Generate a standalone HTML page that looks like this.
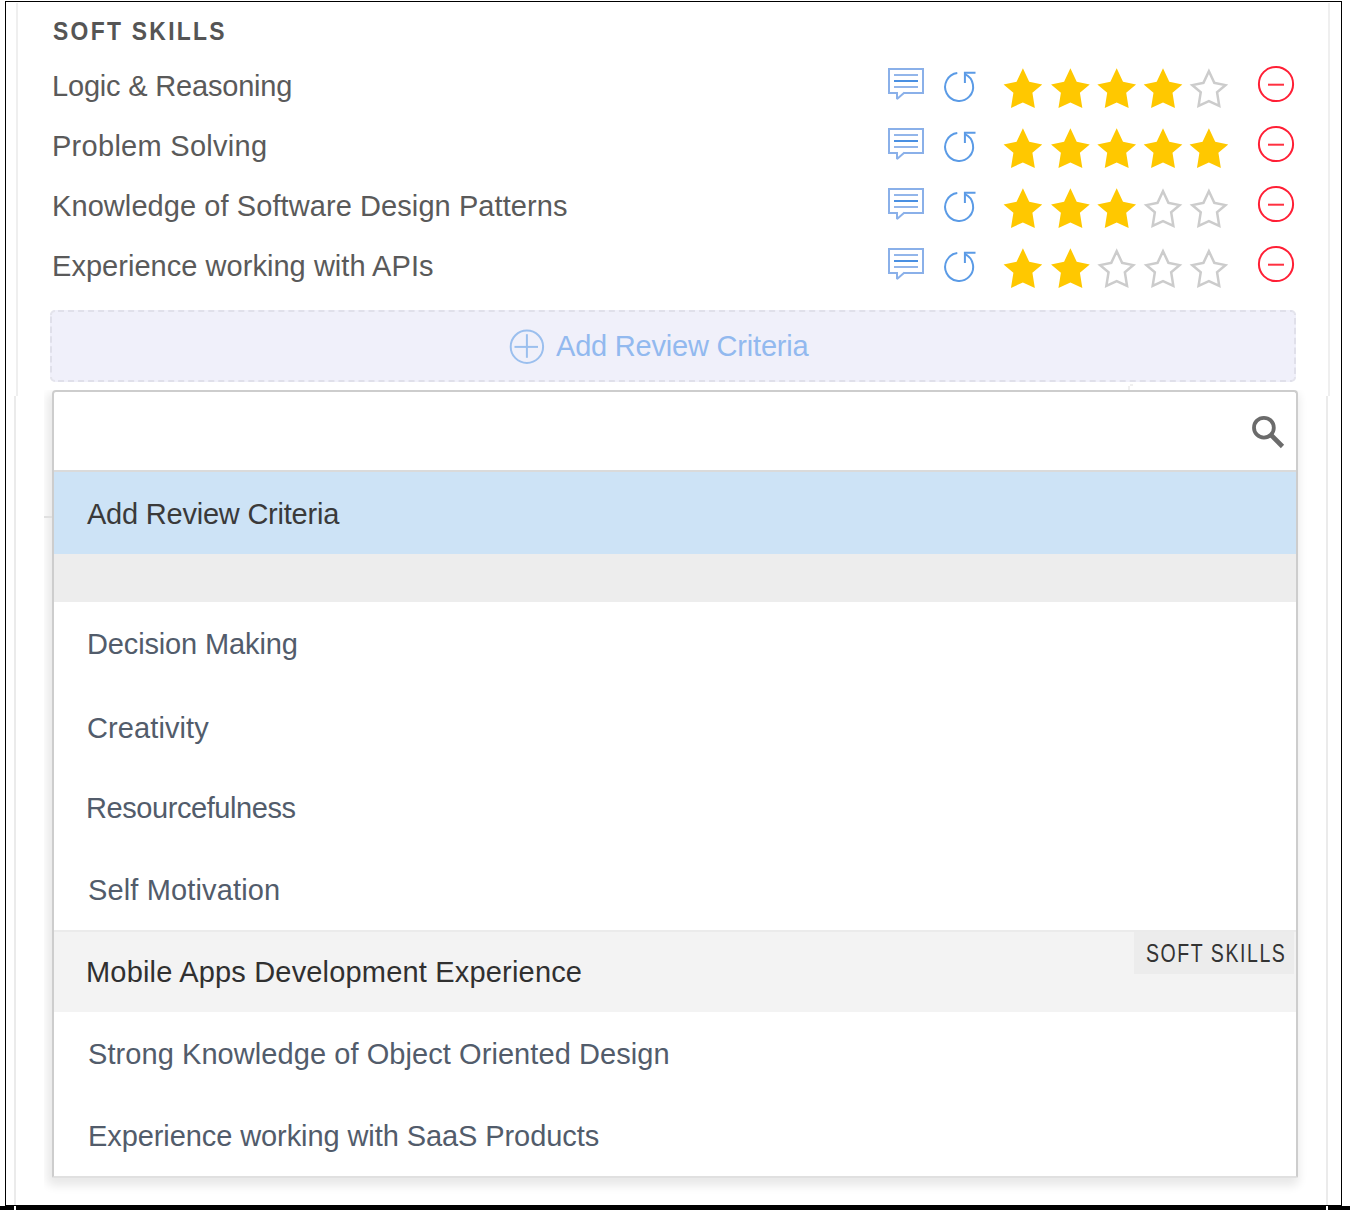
<!DOCTYPE html>
<html>
<head>
<meta charset="utf-8">
<style>
html,body{margin:0;padding:0;}
body{width:1350px;height:1210px;position:relative;overflow:hidden;background:#fff;font-family:"Liberation Sans",sans-serif;}
.a{position:absolute;}
.t{position:absolute;white-space:nowrap;line-height:normal;font-family:"Liberation Sans",sans-serif;}
.row{font-size:29px;color:#5a5a5a;}
.itm{font-size:29px;color:#525c6b;}
svg{position:absolute;overflow:visible;}
</style>
</head>
<body>
<!-- frame -->
<div class="a" style="left:5px;top:1px;width:1337px;height:1px;background:#000"></div>
<div class="a" style="left:5px;top:1px;width:1px;height:1205px;background:#000"></div>
<div class="a" style="left:1341px;top:1px;width:1px;height:1205px;background:#000"></div>
<div class="a" style="left:0;top:1206px;width:1350px;height:4px;background:#000"></div>
<div class="a" style="left:5px;top:1205px;width:1337px;height:1px;background:#000"></div>
<div class="a" style="left:14px;top:1206px;width:2px;height:4px;background:#fff"></div>
<div class="a" style="left:1326px;top:1206px;width:2px;height:4px;background:#fff"></div>
<!-- grey vertical lines -->
<div class="a" style="left:16px;top:3px;width:2px;height:393px;background:#efefef"></div>
<div class="a" style="left:14px;top:396px;width:2px;height:809px;background:#ebebeb"></div>
<div class="a" style="left:1328px;top:3px;width:2px;height:393px;background:#efefef"></div>
<div class="a" style="left:1326px;top:396px;width:2px;height:809px;background:#ebebeb"></div>

<!-- header -->
<div class="t" style="left:53px;top:16px;font-size:26px;font-weight:bold;color:#555;letter-spacing:2.6px;transform-origin:0 0;transform:scaleX(0.88)">SOFT SKILLS</div>

<!-- rows -->
<div class="t row" style="left:52px;top:70px;letter-spacing:-0.19px">Logic &amp; Reasoning</div>
<div class="t row" style="left:52px;top:130px;letter-spacing:0.28px">Problem Solving</div>
<div class="t row" style="left:52px;top:190px;letter-spacing:0.08px">Knowledge of Software Design Patterns</div>
<div class="t row" style="left:52px;top:250px;letter-spacing:0.04px">Experience working with APIs</div>

<!--ICONS-->
<svg style="left:0;top:0" width="1350" height="300" viewBox="0 0 1350 300">
<defs>
<clipPath id="c04"><polygon points="1208.90,68.20 1215.20,81.80 1228.25,84.40 1218.40,92.80 1220.85,107.90 1208.90,102.40 1196.95,107.90 1199.40,92.80 1189.55,84.40 1202.60,81.80"/></clipPath>
<clipPath id="c23"><polygon points="1163.00,188.20 1169.30,201.80 1182.35,204.40 1172.50,212.80 1174.95,227.90 1163.00,222.40 1151.05,227.90 1153.50,212.80 1143.65,204.40 1156.70,201.80"/></clipPath>
<clipPath id="c24"><polygon points="1208.90,188.20 1215.20,201.80 1228.25,204.40 1218.40,212.80 1220.85,227.90 1208.90,222.40 1196.95,227.90 1199.40,212.80 1189.55,204.40 1202.60,201.80"/></clipPath>
<clipPath id="c32"><polygon points="1116.70,248.20 1123.00,261.80 1136.05,264.40 1126.20,272.80 1128.65,287.90 1116.70,282.40 1104.75,287.90 1107.20,272.80 1097.35,264.40 1110.40,261.80"/></clipPath>
<clipPath id="c33"><polygon points="1163.00,248.20 1169.30,261.80 1182.35,264.40 1172.50,272.80 1174.95,287.90 1163.00,282.40 1151.05,287.90 1153.50,272.80 1143.65,264.40 1156.70,261.80"/></clipPath>
<clipPath id="c34"><polygon points="1208.90,248.20 1215.20,261.80 1228.25,264.40 1218.40,272.80 1220.85,287.90 1208.90,282.40 1196.95,287.90 1199.40,272.80 1189.55,264.40 1202.60,261.80"/></clipPath>
</defs>
<path d="M904 93 L923 93 L923 69 L889 69 L889 93 L897 93" fill="none" stroke="#8ab0e9" stroke-width="2" stroke-linejoin="miter"/>
<path d="M897 92 L897 99 L904.5 92.5" fill="none" stroke="#8ab0e9" stroke-width="2" stroke-linejoin="bevel"/>
<line x1="894" y1="75" x2="918" y2="75" stroke="#93b6ea" stroke-width="2"/>
<line x1="894" y1="81" x2="918" y2="81" stroke="#4a90e2" stroke-width="2"/>
<line x1="894" y1="87" x2="918" y2="87" stroke="#93b6ea" stroke-width="2"/>
<path d="M957.3 73.03 A14 14 0 1 0 965 74.2" fill="none" stroke="#5b9be6" stroke-width="2"/>
<path d="M964.9 83 L964.9 72.7 L975.5 72.7" fill="none" stroke="#5b9be6" stroke-width="2"/>
<polygon points="1022.90,68.20 1029.20,81.80 1042.25,84.40 1032.40,92.80 1034.85,107.90 1022.90,102.40 1010.95,107.90 1013.40,92.80 1003.55,84.40 1016.60,81.80" fill="#ffc800"/>
<polygon points="1070.40,68.20 1076.70,81.80 1089.75,84.40 1079.90,92.80 1082.35,107.90 1070.40,102.40 1058.45,107.90 1060.90,92.80 1051.05,84.40 1064.10,81.80" fill="#ffc800"/>
<polygon points="1116.70,68.20 1123.00,81.80 1136.05,84.40 1126.20,92.80 1128.65,107.90 1116.70,102.40 1104.75,107.90 1107.20,92.80 1097.35,84.40 1110.40,81.80" fill="#ffc800"/>
<polygon points="1163.00,68.20 1169.30,81.80 1182.35,84.40 1172.50,92.80 1174.95,107.90 1163.00,102.40 1151.05,107.90 1153.50,92.80 1143.65,84.40 1156.70,81.80" fill="#ffc800"/>
<polygon points="1208.90,68.20 1215.20,81.80 1228.25,84.40 1218.40,92.80 1220.85,107.90 1208.90,102.40 1196.95,107.90 1199.40,92.80 1189.55,84.40 1202.60,81.80" fill="none" stroke="#cccccc" stroke-width="5" clip-path="url(#c04)"/>
<circle cx="1276" cy="84" r="17.1" fill="none" stroke="#ff1f35" stroke-width="2"/>
<line x1="1268" y1="84.7" x2="1284" y2="84.7" stroke="#ff3040" stroke-width="2"/>
<path d="M904 153 L923 153 L923 129 L889 129 L889 153 L897 153" fill="none" stroke="#8ab0e9" stroke-width="2" stroke-linejoin="miter"/>
<path d="M897 152 L897 159 L904.5 152.5" fill="none" stroke="#8ab0e9" stroke-width="2" stroke-linejoin="bevel"/>
<line x1="894" y1="135" x2="918" y2="135" stroke="#93b6ea" stroke-width="2"/>
<line x1="894" y1="141" x2="918" y2="141" stroke="#4a90e2" stroke-width="2"/>
<line x1="894" y1="147" x2="918" y2="147" stroke="#93b6ea" stroke-width="2"/>
<path d="M957.3 133.03 A14 14 0 1 0 965 134.2" fill="none" stroke="#5b9be6" stroke-width="2"/>
<path d="M964.9 143 L964.9 132.7 L975.5 132.7" fill="none" stroke="#5b9be6" stroke-width="2"/>
<polygon points="1022.90,128.20 1029.20,141.80 1042.25,144.40 1032.40,152.80 1034.85,167.90 1022.90,162.40 1010.95,167.90 1013.40,152.80 1003.55,144.40 1016.60,141.80" fill="#ffc800"/>
<polygon points="1070.40,128.20 1076.70,141.80 1089.75,144.40 1079.90,152.80 1082.35,167.90 1070.40,162.40 1058.45,167.90 1060.90,152.80 1051.05,144.40 1064.10,141.80" fill="#ffc800"/>
<polygon points="1116.70,128.20 1123.00,141.80 1136.05,144.40 1126.20,152.80 1128.65,167.90 1116.70,162.40 1104.75,167.90 1107.20,152.80 1097.35,144.40 1110.40,141.80" fill="#ffc800"/>
<polygon points="1163.00,128.20 1169.30,141.80 1182.35,144.40 1172.50,152.80 1174.95,167.90 1163.00,162.40 1151.05,167.90 1153.50,152.80 1143.65,144.40 1156.70,141.80" fill="#ffc800"/>
<polygon points="1208.90,128.20 1215.20,141.80 1228.25,144.40 1218.40,152.80 1220.85,167.90 1208.90,162.40 1196.95,167.90 1199.40,152.80 1189.55,144.40 1202.60,141.80" fill="#ffc800"/>
<circle cx="1276" cy="144" r="17.1" fill="none" stroke="#ff1f35" stroke-width="2"/>
<line x1="1268" y1="144.7" x2="1284" y2="144.7" stroke="#ff3040" stroke-width="2"/>
<path d="M904 213 L923 213 L923 189 L889 189 L889 213 L897 213" fill="none" stroke="#8ab0e9" stroke-width="2" stroke-linejoin="miter"/>
<path d="M897 212 L897 219 L904.5 212.5" fill="none" stroke="#8ab0e9" stroke-width="2" stroke-linejoin="bevel"/>
<line x1="894" y1="195" x2="918" y2="195" stroke="#93b6ea" stroke-width="2"/>
<line x1="894" y1="201" x2="918" y2="201" stroke="#4a90e2" stroke-width="2"/>
<line x1="894" y1="207" x2="918" y2="207" stroke="#93b6ea" stroke-width="2"/>
<path d="M957.3 193.03 A14 14 0 1 0 965 194.2" fill="none" stroke="#5b9be6" stroke-width="2"/>
<path d="M964.9 203 L964.9 192.7 L975.5 192.7" fill="none" stroke="#5b9be6" stroke-width="2"/>
<polygon points="1022.90,188.20 1029.20,201.80 1042.25,204.40 1032.40,212.80 1034.85,227.90 1022.90,222.40 1010.95,227.90 1013.40,212.80 1003.55,204.40 1016.60,201.80" fill="#ffc800"/>
<polygon points="1070.40,188.20 1076.70,201.80 1089.75,204.40 1079.90,212.80 1082.35,227.90 1070.40,222.40 1058.45,227.90 1060.90,212.80 1051.05,204.40 1064.10,201.80" fill="#ffc800"/>
<polygon points="1116.70,188.20 1123.00,201.80 1136.05,204.40 1126.20,212.80 1128.65,227.90 1116.70,222.40 1104.75,227.90 1107.20,212.80 1097.35,204.40 1110.40,201.80" fill="#ffc800"/>
<polygon points="1163.00,188.20 1169.30,201.80 1182.35,204.40 1172.50,212.80 1174.95,227.90 1163.00,222.40 1151.05,227.90 1153.50,212.80 1143.65,204.40 1156.70,201.80" fill="none" stroke="#cccccc" stroke-width="5" clip-path="url(#c23)"/>
<polygon points="1208.90,188.20 1215.20,201.80 1228.25,204.40 1218.40,212.80 1220.85,227.90 1208.90,222.40 1196.95,227.90 1199.40,212.80 1189.55,204.40 1202.60,201.80" fill="none" stroke="#cccccc" stroke-width="5" clip-path="url(#c24)"/>
<circle cx="1276" cy="204" r="17.1" fill="none" stroke="#ff1f35" stroke-width="2"/>
<line x1="1268" y1="204.7" x2="1284" y2="204.7" stroke="#ff3040" stroke-width="2"/>
<path d="M904 273 L923 273 L923 249 L889 249 L889 273 L897 273" fill="none" stroke="#8ab0e9" stroke-width="2" stroke-linejoin="miter"/>
<path d="M897 272 L897 279 L904.5 272.5" fill="none" stroke="#8ab0e9" stroke-width="2" stroke-linejoin="bevel"/>
<line x1="894" y1="255" x2="918" y2="255" stroke="#93b6ea" stroke-width="2"/>
<line x1="894" y1="261" x2="918" y2="261" stroke="#4a90e2" stroke-width="2"/>
<line x1="894" y1="267" x2="918" y2="267" stroke="#93b6ea" stroke-width="2"/>
<path d="M957.3 253.03 A14 14 0 1 0 965 254.2" fill="none" stroke="#5b9be6" stroke-width="2"/>
<path d="M964.9 263 L964.9 252.7 L975.5 252.7" fill="none" stroke="#5b9be6" stroke-width="2"/>
<polygon points="1022.90,248.20 1029.20,261.80 1042.25,264.40 1032.40,272.80 1034.85,287.90 1022.90,282.40 1010.95,287.90 1013.40,272.80 1003.55,264.40 1016.60,261.80" fill="#ffc800"/>
<polygon points="1070.40,248.20 1076.70,261.80 1089.75,264.40 1079.90,272.80 1082.35,287.90 1070.40,282.40 1058.45,287.90 1060.90,272.80 1051.05,264.40 1064.10,261.80" fill="#ffc800"/>
<polygon points="1116.70,248.20 1123.00,261.80 1136.05,264.40 1126.20,272.80 1128.65,287.90 1116.70,282.40 1104.75,287.90 1107.20,272.80 1097.35,264.40 1110.40,261.80" fill="none" stroke="#cccccc" stroke-width="5" clip-path="url(#c32)"/>
<polygon points="1163.00,248.20 1169.30,261.80 1182.35,264.40 1172.50,272.80 1174.95,287.90 1163.00,282.40 1151.05,287.90 1153.50,272.80 1143.65,264.40 1156.70,261.80" fill="none" stroke="#cccccc" stroke-width="5" clip-path="url(#c33)"/>
<polygon points="1208.90,248.20 1215.20,261.80 1228.25,264.40 1218.40,272.80 1220.85,287.90 1208.90,282.40 1196.95,287.90 1199.40,272.80 1189.55,264.40 1202.60,261.80" fill="none" stroke="#cccccc" stroke-width="5" clip-path="url(#c34)"/>
<circle cx="1276" cy="264" r="17.1" fill="none" stroke="#ff1f35" stroke-width="2"/>
<line x1="1268" y1="264.7" x2="1284" y2="264.7" stroke="#ff3040" stroke-width="2"/>
</svg>
<!--/ICONS-->

<!-- add review criteria box -->
<svg style="left:0;top:0" width="1350" height="400" viewBox="0 0 1350 400">
  <rect x="50" y="310" width="1246" height="72" rx="5" ry="5" fill="#f0f0fa"/>
  <path d="M51 315 A4 4 0 0 1 55 311 M1291 311 A4 4 0 0 1 1295 315 M1295 377 A4 4 0 0 1 1291 381 M55 381 A4 4 0 0 1 51 377" fill="none" stroke="#e4e4ec" stroke-width="2"/>
  <line x1="54" y1="311" x2="1292" y2="311" stroke="#e0e0ea" stroke-width="2" stroke-dasharray="6 4.016" stroke-dashoffset="6"/>
  <line x1="54" y1="381" x2="1292" y2="381" stroke="#e0e0ea" stroke-width="2" stroke-dasharray="6 4.016" stroke-dashoffset="6"/>
  <line x1="51" y1="314" x2="51" y2="376" stroke="#e0e0ea" stroke-width="2" stroke-dasharray="6.5 3.4" stroke-dashoffset="7.4"/>
  <line x1="1295" y1="314" x2="1295" y2="376" stroke="#e0e0ea" stroke-width="2" stroke-dasharray="6.5 3.4" stroke-dashoffset="6"/>
</svg>
<svg style="left:0;top:0" width="1" height="1">
  <circle cx="526.9" cy="346.7" r="16.2" fill="none" stroke="#9bbfee" stroke-width="2"/>
  <line x1="514.5" y1="346.9" x2="538" y2="346.9" stroke="#9bbfee" stroke-width="2"/>
  <line x1="526.9" y1="334.2" x2="526.9" y2="357.8" stroke="#9bbfee" stroke-width="2"/>
</svg>
<div class="t" style="left:556px;top:330px;font-size:29px;color:#92b9ef;letter-spacing:-0.2px">Add Review Criteria</div>

<!-- dropdown -->
<div class="a" style="left:1128px;top:386px;width:2px;height:4px;background:#efefef"></div>
<div class="a" style="left:1130px;top:384px;width:3px;height:2px;background:#f0f0f0"></div>

<div class="a" style="left:44px;top:390px;width:1306px;height:820px;overflow:hidden"><div id="shd" class="a" style="left:8px;top:0px;width:1246px;height:788px;border-radius:4px;background:#fff;box-shadow:-2px 5px 10px 3px rgba(0,0,0,0.09)"></div></div>
<div class="a" style="left:52px;top:390px;width:1242px;height:784px;border:2px solid #cdcdcd;border-bottom-color:#e0e0e0;border-radius:4px 4px 2px 2px;background:#fff;"></div>
<div class="a" style="left:44px;top:516px;width:8px;height:2px;background:#e0e0e0"></div>
<div class="a" style="left:54px;top:470px;width:1242px;height:2px;background:#dadada"></div>
<div class="a" style="left:54px;top:472px;width:1242px;height:82px;background:#cde3f6"></div>
<div class="a" style="left:54px;top:554px;width:1242px;height:48px;background:#ededed"></div>
<div class="a" style="left:54px;top:930px;width:1242px;height:82px;background:#f3f3f3"></div>
<div class="a" style="left:54px;top:930px;width:1242px;height:2px;background:#ebebeb"></div>
<div class="a" style="left:1134px;top:932px;width:160px;height:42px;background:#ececec"></div>

<svg style="left:0;top:0" width="1" height="1">
  <circle cx="1263.9" cy="427.7" r="9.9" fill="none" stroke="#6b6b6b" stroke-width="3.8"/>
  <line x1="1271" y1="435" x2="1282.5" y2="446.5" stroke="#6b6b6b" stroke-width="4.6"/>
</svg>

<div class="t" style="left:87px;top:498px;font-size:29px;color:#3a3a3a;letter-spacing:-0.22px">Add Review Criteria</div>
<div class="t itm" style="left:87px;top:628px;letter-spacing:-0.14px">Decision Making</div>
<div class="t itm" style="left:87px;top:712px;letter-spacing:0.1px">Creativity</div>
<div class="t itm" style="left:86px;top:792px;letter-spacing:-0.43px">Resourcefulness</div>
<div class="t itm" style="left:88px;top:874px;letter-spacing:0.14px">Self Motivation</div>
<div class="t" style="left:86px;top:956px;font-size:29px;color:#303030;letter-spacing:0.18px">Mobile Apps Development Experience</div>
<div class="t itm" style="left:88px;top:1038px;letter-spacing:0.07px">Strong Knowledge of Object Oriented Design</div>
<div class="t itm" style="left:88px;top:1120px;letter-spacing:-0.085px">Experience working with SaaS Products</div>
<div class="t" style="left:1146px;top:939px;font-size:25px;color:#333;letter-spacing:2px;transform-origin:0 0;transform:scaleX(0.78)">SOFT SKILLS</div>

</body>
</html>
